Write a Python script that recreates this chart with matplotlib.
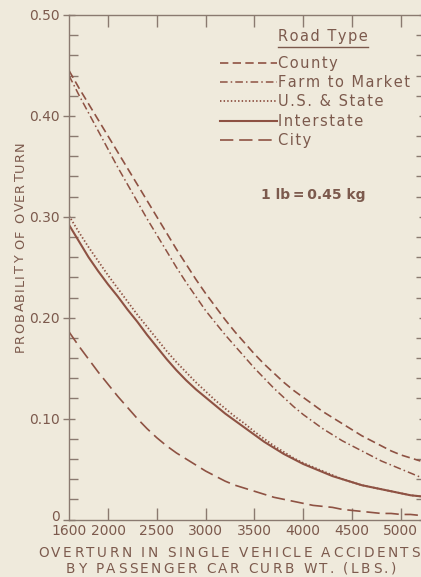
import matplotlib
matplotlib.use("Agg")
import matplotlib.pyplot as plt
from matplotlib.lines import Line2D
from matplotlib.ticker import FixedLocator, MultipleLocator
from matplotlib.transforms import ScaledTranslation
from matplotlib.font_manager import FontProperties

# ---- data ----
weight = [1600, 1700, 1800, 1900, 2000, 2100, 2200, 2300, 2400, 2500,
          2600, 2700, 2800, 2900, 3000, 3100, 3200, 3300, 3400, 3500,
          3600, 3700, 3800, 3900, 4000, 4100, 4200, 4300, 4400, 4500,
          4600, 4700, 4800, 4900, 5000, 5100, 5200]
county = [0.445, 0.428, 0.412, 0.396, 0.380, 0.364, 0.348, 0.332, 0.316, 0.300,
          0.284, 0.268, 0.253, 0.238, 0.224, 0.211, 0.198, 0.186, 0.175, 0.164,
          0.154, 0.145, 0.136, 0.128, 0.121, 0.114, 0.107, 0.101, 0.095, 0.089,
          0.083, 0.078, 0.073, 0.068, 0.064, 0.061, 0.058]
farm_to_market = [0.440, 0.421, 0.403, 0.385, 0.367, 0.349, 0.332, 0.315, 0.298, 0.282,
                  0.266, 0.250, 0.235, 0.221, 0.207, 0.195, 0.183, 0.172, 0.161, 0.150,
                  0.140, 0.130, 0.121, 0.112, 0.104, 0.097, 0.090, 0.084, 0.078, 0.073,
                  0.068, 0.063, 0.058, 0.054, 0.050, 0.046, 0.042]
us_state = [0.301, 0.285, 0.270, 0.256, 0.242, 0.229, 0.216, 0.203, 0.191, 0.179,
            0.167, 0.156, 0.146, 0.136, 0.127, 0.118, 0.110, 0.102, 0.095, 0.087,
            0.080, 0.073, 0.067, 0.061, 0.056, 0.052, 0.048, 0.044, 0.040, 0.037,
            0.034, 0.032, 0.030, 0.028, 0.026, 0.024, 0.023]
interstate = [0.292, 0.276, 0.260, 0.246, 0.233, 0.221, 0.208, 0.196, 0.183, 0.171,
              0.159, 0.148, 0.138, 0.129, 0.121, 0.113, 0.105, 0.098, 0.091, 0.084,
              0.077, 0.071, 0.065, 0.060, 0.055, 0.051, 0.047, 0.043, 0.040, 0.037,
              0.034, 0.032, 0.030, 0.028, 0.026, 0.024, 0.023]
city = [0.186, 0.172, 0.159, 0.146, 0.134, 0.122, 0.111, 0.100, 0.090, 0.081,
        0.073, 0.066, 0.060, 0.054, 0.048, 0.043, 0.038, 0.034, 0.031, 0.028,
        0.025, 0.022, 0.020, 0.018, 0.016, 0.014, 0.013, 0.012, 0.010, 0.009,
        0.008, 0.007, 0.006, 0.006, 0.005, 0.005, 0.004]

series_labels = ["County", "Farm to Market", "U.S. & State", "Interstate", "City"]
x_ticks = [1600, 2000, 2500, 3000, 3500, 4000, 4500, 5000]
y_ticks = [0, 0.10, 0.20, 0.30, 0.40, 0.50]
y_tick_labels = ["0", "0.10", "0.20", "0.30", "0.40", "0.50"]
y_title = "PROBABILITY OF OVERTURN"
x_title_1 = "OVERTURN IN SINGLE VEHICLE ACCIDENTS"
x_title_2 = "BY PASSENGER CAR CURB WT. (LBS.)"

# ---- style ----
BG = "#efeadc"
LINE = "#8e5243"
TEXT = "#7c5a4d"
AXC = "#8a7a70"

def spaced(s, sp="\u200a"):
    return sp.join(list(s))

plt.rcParams['font.family'] = ['DejaVu Sans']

W, H, DPI = 421, 577, 100
fig = plt.figure(figsize=(W / DPI, H / DPI), dpi=DPI, facecolor=BG)
renderer = fig.canvas.get_renderer()

x_left_px, px_per_500 = 69, 48.8
xmin, xmax = 1600, 5250
ax_w_px = (xmax - xmin) / 500 * px_per_500
y_bot_px, y_top_px = 519.5, 15.0
ax = fig.add_axes([x_left_px / W, (H - y_bot_px) / H, ax_w_px / W, (y_bot_px - y_top_px) / H])
ax.set_facecolor(BG)

ax.plot(weight, county, color=LINE, lw=1.2, dashes=(5, 2.6), label=series_labels[0])
ax.plot(weight, farm_to_market, color=LINE, lw=1.1, dashes=(5, 2, 1, 2), label=series_labels[1])
ax.plot(weight, us_state, color=LINE, lw=1.3, dashes=(0.8, 1.2), label=series_labels[2])
ax.plot(weight, interstate, color=LINE, lw=1.5, ls="-", label=series_labels[3])
ax.plot(weight, city, color=LINE, lw=1.2, dashes=(8, 3.5), label=series_labels[4])

ax.set_xlim(xmin, xmax)
ax.set_ylim(0, 0.5)

for s in ["left", "bottom", "top"]:
    ax.spines[s].set_color(AXC)
    ax.spines[s].set_linewidth(1.0)
ax.spines["right"].set_visible(False)

ax.xaxis.set_major_locator(FixedLocator(x_ticks))
ax.set_xticklabels([str(v) for v in x_ticks])
ax.tick_params(axis="x", which="major", direction="in", length=8.5, width=1.0,
               color=AXC, top=True, bottom=True, labelsize=10, labelcolor=TEXT, pad=3)

ax.yaxis.set_major_locator(FixedLocator(y_ticks))
ax.set_yticklabels(y_tick_labels)
ax.yaxis.set_minor_locator(MultipleLocator(0.02))
ax.tick_params(axis="y", which="major", direction="inout", length=9, width=1.0,
               color=AXC, left=True, right=True, labelsize=10, labelcolor=TEXT, pad=2)
ax.tick_params(axis="y", which="minor", direction="in", length=6.5, width=1.0,
               color=AXC, left=True, right=True)
ax.xaxis.get_major_ticks()[0].tick1line.set_visible(False)
ax.xaxis.get_major_ticks()[0].tick2line.set_visible(False)

zero_lbl = ax.get_yticklabels()[0]
zero_lbl.set_transform(zero_lbl.get_transform() + ScaledTranslation(0, 4 / DPI, fig.dpi_scale_trans))

# legend
leg = ax.legend(loc="upper left",
                bbox_to_anchor=((220 - x_left_px) / ax_w_px, (y_bot_px - 56) / (y_bot_px - y_top_px)),
                frameon=False, fontsize=10.5, handlelength=3.9, handletextpad=0.1,
                labelspacing=0.29, borderpad=0, borderaxespad=0)
for t in leg.get_texts():
    t.set_color(TEXT)
    t.set_text(spaced(t.get_text()))

fig.text(278 / W, 1 - 36 / H, spaced("Road Type"), ha="left", va="center", fontsize=10.5, color=TEXT)
fig.add_artist(Line2D([278 / W, 368 / W], [1 - 46.5 / H, 1 - 46.5 / H], color=TEXT, lw=1.0))

fig.text(313 / W, 1 - 195 / H, "1 lb\u2009=\u20090.45 kg", ha="center", va="center",
         fontsize=10, fontweight="bold", color=TEXT)


# letter-spaced titles: each character placed so the line spans the reference length
def letterspaced(cx, cy, s, size, length, vertical=False):
    fp = FontProperties(family="DejaVu Sans", size=size)
    widths = [renderer.get_text_width_height_descent(ch, fp, ismath=False)[0] for ch in s]
    gap = (length - sum(widths)) / (len(s) - 1)
    pos = -length / 2.0
    for ch, w in zip(s, widths):
        if vertical:
            fig.text(cx / W, (H - cy + pos) / H, ch, rotation=90, rotation_mode="anchor",
                     ha="left", va="baseline", fontproperties=fp, color=TEXT)
        else:
            fig.text((cx + pos) / W, 1 - cy / H, ch, ha="left", va="center",
                     fontproperties=fp, color=TEXT)
        pos += w + gap


letterspaced(24, 247, y_title, 9.3, 211, vertical=True)
letterspaced(229, 553, x_title_1, 9.8, 382)
letterspaced(231, 569, x_title_2, 9.8, 330)

fig.savefig("out.png", dpi=DPI, facecolor=BG)
